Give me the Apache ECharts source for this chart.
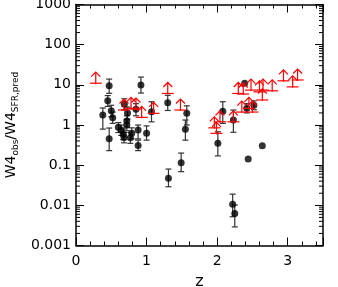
<!DOCTYPE html>
<html>
<head>
<meta charset="utf-8">
<script src="https://cdn.jsdelivr.net/npm/echarts@6/dist/echarts.min.js"></script>
<style>html,body{margin:0;padding:0;background:#fff}#c{width:338px;height:287px}</style>
</head>
<body>
<div id="c"></div>
<script>
// Detections (black points with error bars)
const detX  = [0.38, 0.47, 0.45, 0.50, 0.52, 0.47, 0.60, 0.64, 0.67, 0.68, 0.72, 0.72, 0.77, 0.79, 0.685, 0.73, 0.85, 0.88, 0.88, 0.92, 1.00, 1.07, 1.30, 1.31, 1.49, 1.55, 1.57, 2.01, 2.08, 2.23, 2.22, 2.25, 2.39, 2.44, 2.64, 2.42, 2.52];
const detY  = [1.77, 9.5, 4.0, 2.27, 1.52, 0.457, 0.88, 0.75, 0.59, 0.49, 1.0, 1.26, 0.48, 0.62, 3.3, 2.0, 2.46, 0.75, 0.31, 9.9, 0.62, 2.14, 3.6, 0.047, 0.115, 0.78, 1.95, 0.35, 2.2, 1.33, 0.0107, 0.0063, 10.9, 0.143, 0.305, 2.6, 3.1];
const detLo = [0.79, 6.15, 2.9, 1.6, 1.1, 0.23, 0.65, 0.55, 0.43, 0.36, 0.72, 0.9, 0.35, 0.45, 2.4, 1.4, 1.7, 0.45, 0.23, 6.25, 0.42, 1.2, 2.3, 0.029, 0.069, 0.42, 1.0, 0.17, 1.1, 0.66, 0.0052, 0.0029, null, null, null, 2.0, 2.4];
const detHi = [2.65, 13.9, 5.4, 3.1, 2.1, 0.84, 1.15, 1.0, 0.8, 0.65, 1.35, 1.7, 0.65, 0.85, 4.5, 2.8, 3.4, 1.0, 0.42, 15.6, 0.95, 3.8, 5.5, 0.080, 0.20, 1.33, 3.0, 0.68, 3.8, 2.36, 0.019, 0.0102, null, null, null, 3.4, 4.0];

// Lower limits (red arrows)
const limX = [0.28, 0.68, 0.78, 0.85, 0.93, 1.10, 1.30, 1.48, 1.96, 1.99, 2.04, 2.23, 2.30, 2.37, 2.35, 2.45, 2.50, 2.48, 2.60, 2.65, 2.64, 2.78, 2.94, 3.07, 3.14];
const limY = [11, 2.36, 2.6, 2.5, 1.55, 1.95, 6.1, 2.36, 0.85, 0.62, 1.2, 1.2, 6.1, 5.9, 2.1, 2.6, 2.1, 7.4, 6.7, 7.4, 4.2, 7.1, 12.6, 8.9, 13.2];

// Axis tick labels
const xTickLabels = ['0', '1', '2', '3'];
const yTickLabels = ['0.001', '0.01', '0.1', '1', '10', '100', '1000'];
const yMinorTicks = [];
for (let e = -3; e < 3; e++) for (let m = 2; m <= 9; m++) yMinorTicks.push(+(m * Math.pow(10, e)).toPrecision(3));

const detData = detX.map((x, i) => [x, detY[i]]);
const errData = detX.map((x, i) => [x, detY[i], detLo[i], detHi[i]]).filter(d => d[2] != null);
const limData = limX.map((x, i) => [x, limY[i]]);

const FONT = 'DejaVu Sans';
const chart = echarts.init(document.getElementById('c'), null, {renderer: 'canvas'});

function yLabel(v) {
  const e = Math.round(Math.log10(v)) + 3;
  return yTickLabels[e] !== undefined ? yTickLabels[e] : '';
}

const option = {
  animation: false,
  grid: {left: 76, right: 15, top: 4.5, bottom: 41.5, containLabel: false, outerBoundsMode: 'none'},
  xAxis: [{
    type: 'value', min: 0, max: 3.5, interval: 1,
    position: 'bottom',
    axisLine: {onZero: false, lineStyle: {color: '#000', width: 1.5}},
    axisTick: {inside: true, length: 8, lineStyle: {color: '#000', width: 1}},
    minorTick: {show: true, splitNumber: 5, length: 4, lineStyle: {color: '#000', width: 1}},
    axisLabel: {color: '#000', fontFamily: FONT, fontSize: 14, margin: 9,
      formatter: v => { const i = Math.round(v); return (Math.abs(v - i) < 1e-6 && xTickLabels[i] !== undefined) ? xTickLabels[i] : ''; }},
    splitLine: {show: false},
    name: 'z', nameLocation: 'middle', nameGap: 23,
    nameTextStyle: {color: '#000', fontFamily: FONT, fontSize: 16}
  }, {
    type: 'value', min: 0, max: 3.5, interval: 1,
    position: 'top',
    axisLine: {onZero: false, lineStyle: {color: '#000', width: 1.5}},
    axisTick: {inside: true, length: 8, lineStyle: {color: '#000', width: 1}},
    minorTick: {show: true, splitNumber: 5, length: 4, lineStyle: {color: '#000', width: 1}},
    axisLabel: {show: false},
    splitLine: {show: false}
  }],
  yAxis: [{
    type: 'log', logBase: 10, min: 0.001, max: 1000, interval: 1,
    position: 'left',
    axisLine: {onZero: false, lineStyle: {color: '#000', width: 1.5}},
    axisTick: {inside: true, length: 8, lineStyle: {color: '#000', width: 1}},
    axisLabel: {color: '#000', fontFamily: FONT, fontSize: 14, margin: 5, formatter: yLabel},
    splitLine: {show: false},
    name: '{a|W4}{s|obs}{a|/W4}{s|SFR,pred}',
    nameLocation: 'middle', nameGap: 51, nameRotate: 90,
    nameTextStyle: {
      color: '#000', fontFamily: FONT, fontSize: 14,
      rich: {
        a: {fontFamily: FONT, fontSize: 14, color: '#000', lineHeight: 18, verticalAlign: 'middle'},
        s: {fontFamily: FONT, fontSize: 9, color: '#000', lineHeight: 18, padding: [8, 0, 0, 0], verticalAlign: 'middle'}
      }
    }
  }, {
    type: 'log', logBase: 10, min: 0.001, max: 1000, interval: 1,
    position: 'right',
    axisLine: {onZero: false, lineStyle: {color: '#000', width: 1.5}},
    axisTick: {inside: true, length: 8, lineStyle: {color: '#000', width: 1}},
    axisLabel: {show: false},
    splitLine: {show: false}
  }],
  series: [
    {
      // minor ticks on log axes (left & right)
      type: 'custom', xAxisIndex: 0, yAxisIndex: 0, silent: true, z: 1,
      data: yMinorTicks.map(v => [0, v]),
      renderItem: (params, api) => {
        const p = api.coord([0, api.value(1)]);
        const cs = params.coordSys;
        const xl = cs.x, xr = cs.x + cs.width;
        return {type: 'group', children: [
          {type: 'line', shape: {x1: xl, y1: p[1], x2: xl + 4, y2: p[1]}, style: {stroke: '#000', lineWidth: 1}},
          {type: 'line', shape: {x1: xr, y1: p[1], x2: xr - 4, y2: p[1]}, style: {stroke: '#000', lineWidth: 1}}
        ]};
      }
    },
    {
      type: 'custom', xAxisIndex: 0, yAxisIndex: 0, silent: true, z: 2,
      data: errData,
      renderItem: (params, api) => {
        const x = api.value(0);
        const lo = api.coord([x, api.value(2)]);
        const hi = api.coord([x, api.value(3)]);
        const c = 3;
        const st = {stroke: '#333', lineWidth: 1.2};
        return {type: 'group', children: [
          {type: 'line', shape: {x1: lo[0], y1: lo[1], x2: hi[0], y2: hi[1]}, style: st},
          {type: 'line', shape: {x1: lo[0] - c, y1: lo[1], x2: lo[0] + c, y2: lo[1]}, style: st},
          {type: 'line', shape: {x1: hi[0] - c, y1: hi[1], x2: hi[0] + c, y2: hi[1]}, style: st}
        ]};
      }
    },
    {
      type: 'scatter', xAxisIndex: 0, yAxisIndex: 0, z: 3,
      data: detData, symbol: 'circle', symbolSize: 7,
      itemStyle: {color: '#000'}
    },
    {
      type: 'custom', xAxisIndex: 0, yAxisIndex: 0, silent: true, z: 4,
      data: limData,
      renderItem: (params, api) => {
        const p = api.coord([api.value(0), api.value(1)]);
        const st = {stroke: '#ff0000', lineWidth: 1.2, fill: null};
        return {type: 'group', children: [
          {type: 'line', shape: {x1: p[0] - 6, y1: p[1], x2: p[0] + 6, y2: p[1]}, style: st},
          {type: 'line', shape: {x1: p[0], y1: p[1] + 1, x2: p[0], y2: p[1] - 11}, style: st},
          {type: 'polyline', shape: {points: [[p[0] - 4.5, p[1] - 6.5], [p[0], p[1] - 11], [p[0] + 4.5, p[1] - 6.5]]}, style: st}
        ]};
      }
    }
  ]
};
chart.setOption(option);
</script>
</body>
</html>
